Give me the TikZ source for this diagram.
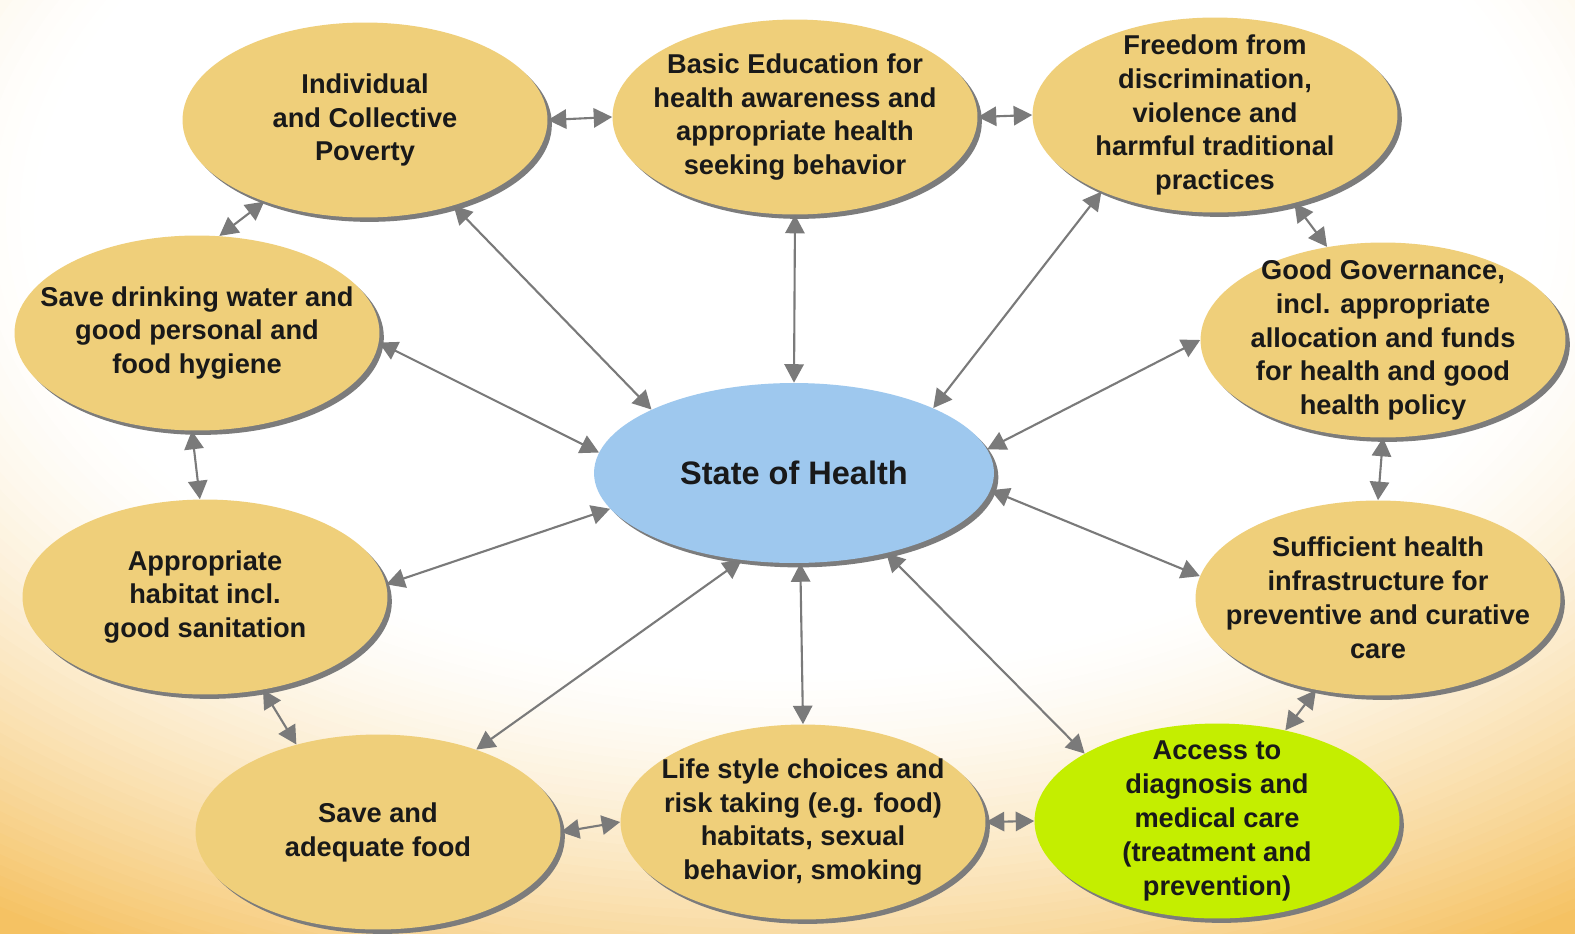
\documentclass[tikz,border=0pt]{standalone}
\usepackage{fontspec}
\setmainfont{Liberation Sans}
\usetikzlibrary{shapes.geometric,arrows.meta,shadows}
\definecolor{tanfill}{HTML}{EFCF7A}
\definecolor{limefill}{HTML}{C4EE00}
\definecolor{skyfill}{HTML}{9EC8EE}
\definecolor{shadowgray}{HTML}{7C7C7C}
\definecolor{linkgray}{HTML}{7A7A7A}
\definecolor{bgorange}{HTML}{F5C263}
\begin{document}
\begin{tikzpicture}[x=0.02cm, y=-0.02cm,
  factor/.style={ellipse, fill=tanfill, minimum width=7.3cm, minimum height=3.9cm, inner sep=0pt,
    drop shadow={shadow xshift=2.5pt, shadow yshift=-2.5pt, fill=shadowgray, opacity=1}},
  caption/.style={align=center, inner sep=0pt, text=black!90, font=\bfseries\fontsize{15.5}{19.3}\selectfont},
  link/.style={{Triangle[length=10.5pt,width=11pt]}-{Triangle[length=10.5pt,width=11pt]}, draw=linkgray, line width=1.2pt}]
\useasboundingbox (0,0) rectangle (1575,933);
% background glow
\begin{scope}
\clip (0,0) rectangle (1575,933);
\foreach \r in {62,61.5,...,27}{
  \pgfmathsetmacro\p{min(100,100*((\r-27)/23)^1.4)}
  \fill[bgorange!\p!white] (790,215) ellipse [x radius=28*\r, y radius=17*\r];
}
\end{scope}
% centre
\node[factor, fill=skyfill, minimum width=8cm, minimum height=3.6cm,
  label={[caption, font=\bfseries\fontsize{18.5}{22}\selectfont]center:State of Health}] (soh) at (794,473) {};
% ring of factors
\node[factor, label={[caption]center:{Individual\\and Collective\\Poverty}}] (pov) at (365,120) {};
\node[factor, label={[caption]center:{Basic Education for\\health awareness and\\appropriate health\\seeking behavior}}] (edu) at (795,117) {};
\node[factor, label={[caption]center:{Freedom from\\discrimination,\\violence and\\harmful traditional\\practices}}] (free) at (1215,115) {};
\node[factor, label={[caption]center:{Good Governance,\\incl. appropriate\\allocation and funds\\for health and good\\health policy}}] (gov) at (1383,340) {};
\node[factor, label={[caption]center:{Sufficient health\\infrastructure for\\preventive and curative\\care}}] (infra) at (1378,598) {};
\node[factor, fill=limefill, label={[caption]center:{Access to\\diagnosis and\\medical care\\(treatment and\\prevention)}}] (access) at (1217,821) {};
\node[factor, label={[caption]center:{Life style choices and\\risk taking (e.g. food)\\habitats, sexual\\behavior, smoking}}] (life) at (803,822) {};
\node[factor, label={[caption]center:{Save and\\adequate food}}] (food) at (378,832) {};
\node[factor, label={[caption]center:{Appropriate\\habitat incl.\\good sanitation}}] (hab) at (205,597) {};
\node[factor, label={[caption]center:{Save drinking water and\\good personal and\\food hygiene}}] (water) at (197,333) {};
% links to the centre
\draw[link] (pov.-44) -- (soh.156);
\draw[link] (edu.south) -- (soh.north);
\draw[link] (free.-146) -- (soh.25);
\draw[link] (gov.180) -- (soh.7);
\draw[link] (infra.173) -- (soh.-5);
\draw[link] (access.153) -- (soh.-41);
\draw[link] (life.north) -- (soh.-86);
\draw[link] (food.40) -- (soh.-121);
\draw[link] (hab.4) -- (soh.-169);
\draw[link] (water.-3) -- (soh.174);
% links round the ring
\draw[link] (pov.east) -- (edu.west);
\draw[link] (edu.east) -- (free.west);
\draw[link] (free.-48) -- (gov.121);
\draw[link] (gov.south) -- (infra.north);
\draw[link] (infra.-124) -- (access.53);
\draw[link] (life.east) -- (access.west);
\draw[link] (food.east) -- (life.west);
\draw[link] (food.133) -- (hab.-58);
\draw[link] (hab.93) -- (water.-93);
\draw[link] (water.77) -- (pov.-141);
\end{tikzpicture}
\end{document}
